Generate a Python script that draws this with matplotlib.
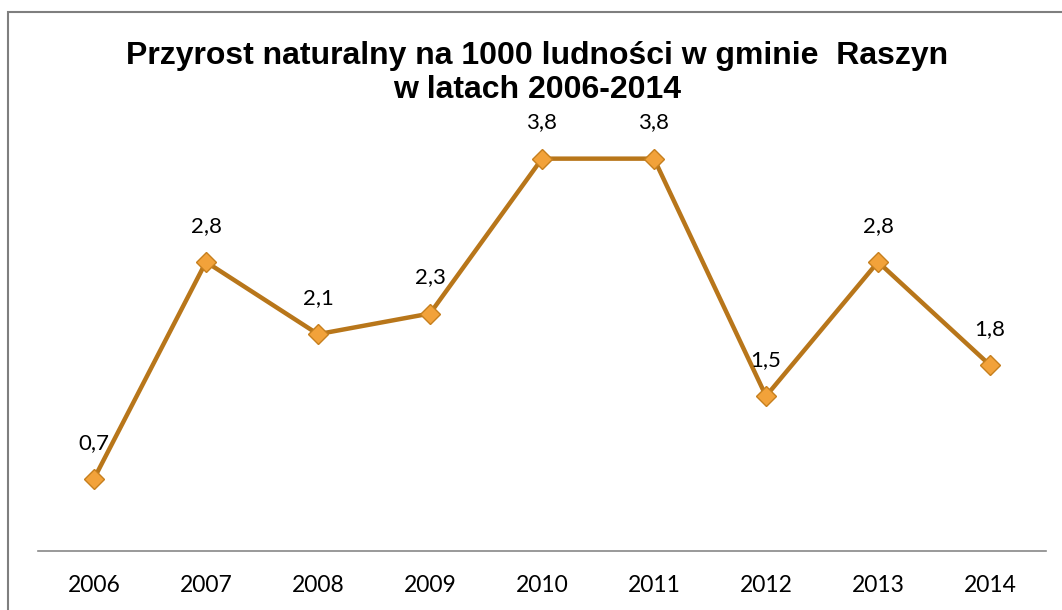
import matplotlib
matplotlib.use("Agg")
import matplotlib.pyplot as plt
from matplotlib.patches import Rectangle

years = ["2006", "2007", "2008", "2009", "2010", "2011", "2012", "2013", "2014"]
values = [0.7, 2.8, 2.1, 2.3, 3.8, 3.8, 1.5, 2.8, 1.8]
labels = ["0,7", "2,8", "2,1", "2,3", "3,8", "3,8", "1,5", "2,8", "1,8"]
title = "Przyrost naturalny na 1000 ludności w gminie  Raszyn\nw latach 2006-2014"

W, H = 1062, 610
fig = plt.figure(figsize=(W / 100, H / 100), dpi=100)
fig.patch.set_facecolor("white")

# outer chart border (runs off the right and bottom edges)
fig.add_artist(Rectangle((8 / W, -0.05), 1.1, (H - 12) / H + 0.05,
                         transform=fig.transFigure, fill=False,
                         edgecolor="#7f7f7f", lw=1.5))

# axes: x from 38 to 1046 px, y=0 at 551 px, y=4 at 138 px
ax = fig.add_axes([38 / W, (H - 551) / H, (1046 - 38) / W, 413 / H])
ax.set_facecolor("none")
x = list(range(len(years)))
ax.plot(x, values, color="#B8761A", lw=3.2, marker="D", ms=10,
        mfc="#F2A23A", mec="#C67F1E", mew=1.0, clip_on=False, zorder=3)
for xi, v, lab in zip(x, values, labels):
    ax.annotate(lab, (xi, v), xytext=(0, 26), textcoords="offset points",
                ha="center", va="center", fontsize=16, family="Lato",
                color="black")

ax.set_xlim(-0.5, len(years) - 0.5)
ax.set_ylim(0, 4)
ax.set_xticks(x)
ax.set_xticklabels(years, fontsize=16.5, family="Lato")
ax.tick_params(axis="x", length=0, pad=17)
ax.set_yticks([])
for s in ("top", "right", "left"):
    ax.spines[s].set_visible(False)
ax.spines["bottom"].set_color("#888888")
ax.spines["bottom"].set_linewidth(1.2)

fig.text(537 / W, 1 - 73 / H, title, ha="center", va="center",
         fontsize=23, fontweight="bold", family="Liberation Sans",
         linespacing=1.15)

fig.savefig("out.png", dpi=100)
